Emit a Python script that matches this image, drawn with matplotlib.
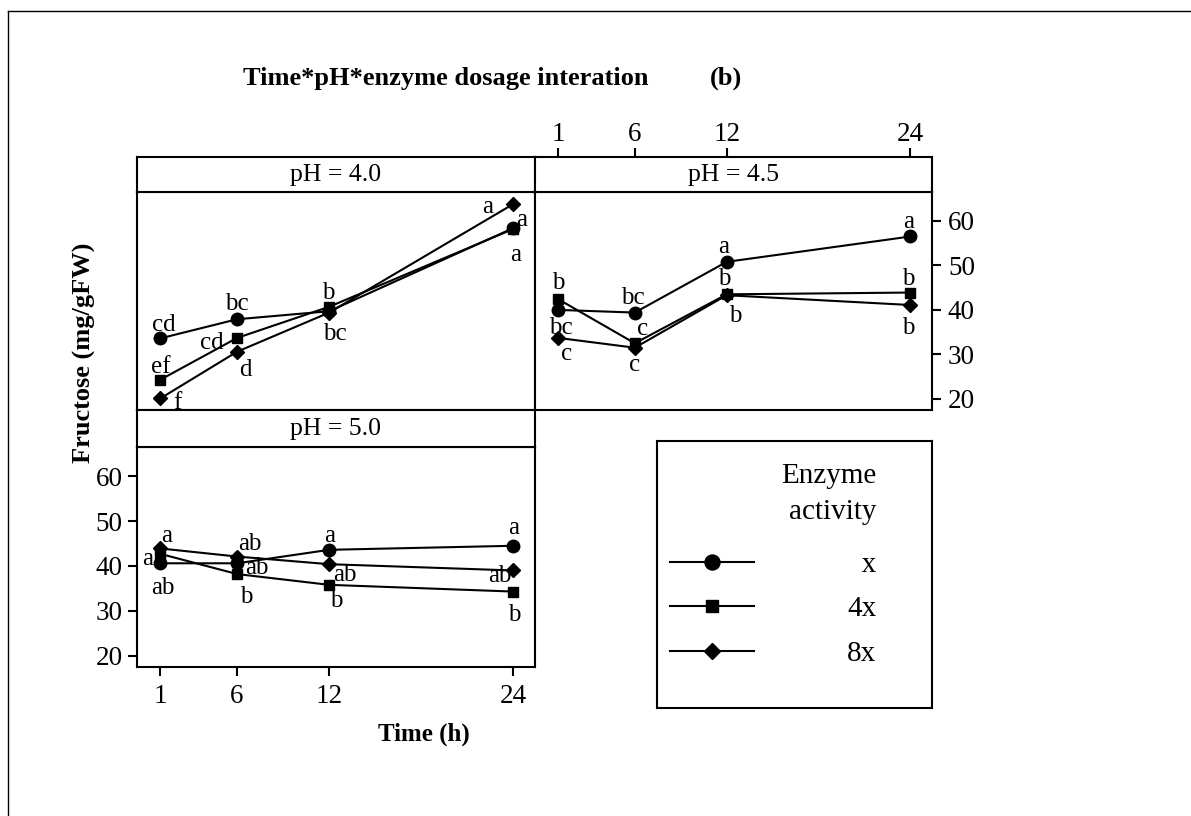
import matplotlib
matplotlib.use("Agg")
import matplotlib.pyplot as plt
from matplotlib.lines import Line2D

plt.rcParams['font.family'] = ['Liberation Serif', 'DejaVu Serif']

# sampling times (h)
hours = [1, 6, 12, 24]
y_ticks = [20, 30, 40, 50, 60]

# fructose (mg/gFW), one list per pH and enzyme activity
ph40_x = [33.6, 37.9, 39.7, 58.4]
ph40_4x = [24.3, 33.7, 40.7, 58.2]
ph40_8x = [20.1, 30.6, 39.4, 63.8]

ph45_x = [40.0, 39.4, 50.8, 56.5]
ph45_4x = [42.4, 32.5, 43.5, 43.9]
ph45_8x = [33.7, 31.5, 43.3, 41.1]

ph50_x = [40.6, 40.6, 43.6, 44.5]
ph50_4x = [42.7, 38.2, 35.8, 34.3]
ph50_8x = [43.9, 42.1, 40.4, 39.0]

# mean separation letters
ph40_x_let = ['cd', 'bc', '', 'a']
ph40_4x_let = ['ef', 'cd', 'b', 'a']
ph40_8x_let = ['f', 'd', 'bc', 'a']

ph45_x_let = ['bc', 'bc', 'a', 'a']
ph45_4x_let = ['b', 'c', 'b', 'b']
ph45_8x_let = ['c', 'c', 'b', 'b']

ph50_x_let = ['ab', 'ab', 'a', 'a']
ph50_4x_let = ['a', 'b', 'b', 'b']
ph50_8x_let = ['a', 'ab', 'ab', 'ab']

# where each letter sits relative to its point (pixels, +y is down)
ph40_x_off = [(3, -13), (0, -15), (0, 0), (8, -8)]
ph40_4x_off = [(0, -13), (-25, 5), (-1, -14), (2, 26)]
ph40_8x_off = [(17, 5), (8, 18), (6, 21), (-26, 3)]

ph45_x_off = [(3, 18), (-2, -15), (-3, -15), (-2, -14)]
ph45_4x_off = [(0, -16), (8, -14), (-2, -15), (-2, -14)]
ph45_8x_off = [(8, 16), (0, 17), (9, 21), (-2, 23)]

ph50_x_off = [(3, 25), (20, 5), (0, -14), (0, -18)]
ph50_4x_off = [(-13, 5), (9, 23), (7, 16), (1, 23)]
ph50_8x_off = [(6, -12), (13, -13), (16, 11), (-13, 6)]

W, H = 1191, 816
fig = plt.figure(figsize=(W / 100, H / 100), dpi=100)


def box(x0, y0, x1, y1):
    return [x0 / W, 1 - y1 / H, (x1 - x0) / W, (y1 - y0) / H]


LW = 1.5
markers = [('o', 9), ('s', 7.6), ('D', 7.0)]
xlim = (-0.52, 25.41)
ylim = (17.5, 66.5)


def style(ax):
    for sp in ax.spines.values():
        sp.set_linewidth(LW)
    ax.tick_params(width=LW, length=6.5, labelsize=19.5, direction='out')
    ax.set_xticks([])
    ax.set_yticks([])


def panel(plot_box, strip_box, title, data, letters, offsets):
    ax = fig.add_axes(box(*plot_box))
    st = fig.add_axes(box(*strip_box))
    style(ax)
    style(st)
    ax.set_xlim(*xlim)
    ax.set_ylim(*ylim)
    st.set_xlim(*xlim)
    st.set_ylim(0, 1)
    st.text(0.5, 0.5, title, transform=st.transAxes, ha='center',
            va='center', fontsize=18.5)
    for vals, (m, ms) in zip(data, markers):
        ax.plot(hours, vals, color='black', lw=LW, marker=m, ms=ms,
                clip_on=False)
    for vals, lets, offs in zip(data, letters, offsets):
        for h, v, t, (dx, dy) in zip(hours, vals, lets, offs):
            if t:
                ax.annotate(t, (h, v), xytext=(dx, -dy),
                            textcoords='offset pixels', ha='center',
                            va='center', fontsize=18)
    return ax, st


a40, s40 = panel((137, 192, 535, 410), (137, 157, 535, 192), 'pH = 4.0',
                 [ph40_x, ph40_4x, ph40_8x],
                 [ph40_x_let, ph40_4x_let, ph40_8x_let],
                 [ph40_x_off, ph40_4x_off, ph40_8x_off])
a45, s45 = panel((535, 192, 932, 410), (535, 157, 932, 192), 'pH = 4.5',
                 [ph45_x, ph45_4x, ph45_8x],
                 [ph45_x_let, ph45_4x_let, ph45_8x_let],
                 [ph45_x_off, ph45_4x_off, ph45_8x_off])
a50, s50 = panel((137, 447, 535, 667), (137, 410, 535, 447), 'pH = 5.0',
                 [ph50_x, ph50_4x, ph50_8x],
                 [ph50_x_let, ph50_4x_let, ph50_8x_let],
                 [ph50_x_off, ph50_4x_off, ph50_8x_off])

# top axis on the pH 4.5 strip, right axis on the pH 4.5 panel
s45.xaxis.tick_top()
s45.set_xticks(hours)
s45.tick_params(axis='x', pad=1)
a45.yaxis.tick_right()
a45.set_yticks(y_ticks)
a45.tick_params(axis='y', pad=5)

# left and bottom axes on the pH 5.0 panel
a50.set_xticks(hours)
a50.set_yticks(y_ticks)
a50.tick_params(axis='x', pad=6)
a50.tick_params(axis='y', pad=4)

fig.text(243 / W, 1 - 85 / H, 'Time*pH*enzyme dosage interation',
         fontsize=19, fontweight='bold', ha='left', va='baseline')
fig.text(710 / W, 1 - 85 / H, '(b)', fontsize=19, fontweight='bold',
         ha='left', va='baseline')
fig.text(84 / W, 1 - 353 / H, 'Fructose (mg/gFW)', fontsize=19,
         fontweight='bold', rotation=90, ha='center', va='center')
fig.text(424 / W, 1 - 734 / H, 'Time (h)', fontsize=18,
         fontweight='bold', ha='center', va='center')

# legend box
lax = fig.add_axes(box(657, 441, 932, 708))
style(lax)
handles = [Line2D([], [], color='black', lw=LW, marker=m, ms=ms * 1.2)
           for m, ms in markers]
leg = lax.legend(handles, ['\u2007x', '4x', '8x'], title='Enzyme\nactivity',
                 loc='upper left', bbox_to_anchor=(13 / 275, 1 - 22 / 267),
                 frameon=False, handlelength=2.88, handletextpad=3.2,
                 borderpad=0, borderaxespad=0, fontsize=21, title_fontsize=21,
                 alignment='right', labelspacing=0.62, numpoints=1)
leg.get_title().set_multialignment('right')
leg.get_title().set_linespacing(1.5)
# a bit more room between the title and the entries
leg._legend_box.sep += 6

# outer frame (top and left edges)
fig.add_artist(Line2D([8 / W, 1], [1 - 11 / H, 1 - 11 / H], color='black',
                      lw=1.0, transform=fig.transFigure))
fig.add_artist(Line2D([8 / W, 8 / W], [0, 1 - 11 / H], color='black',
                      lw=1.0, transform=fig.transFigure))

fig.savefig('out.png', dpi=100)
